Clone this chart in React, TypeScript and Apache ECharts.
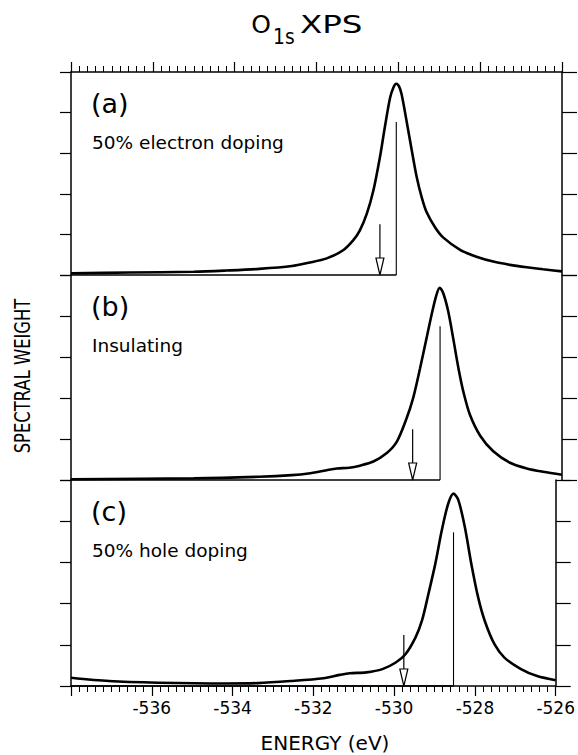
import React, { useEffect, useRef } from "react";
import * as echarts from "echarts";

// O 1s core-level spectra, binding energy in eV (negative scale) vs spectral weight
const energyA = [-538.0, -536.6, -535.0, -534.2, -533.4, -532.6, -532.2, -531.75, -531.35, -531.1, -530.94, -530.77, -530.61, -530.45, -530.33, -530.2, -530.12, -530.05, -529.98, -529.92, -529.8, -529.67, -529.55, -529.43, -529.31, -529.1, -528.9, -528.49, -528.09, -527.68, -527.27, -526.86, -526.46, -526.0];
const weightA = [0.04, 0.06, 0.08, 0.11, 0.15, 0.22, 0.3, 0.41, 0.61, 0.86, 1.1, 1.51, 2.08, 2.9, 3.64, 4.37, 4.62, 4.71, 4.64, 4.45, 3.8, 3.06, 2.41, 1.92, 1.55, 1.17, 0.92, 0.62, 0.45, 0.33, 0.25, 0.19, 0.14, 0.09];

const energyB = [-538.0, -535.0, -533.4, -532.6, -532.2, -531.75, -531.5, -531.2, -530.94, -530.61, -530.29, -530.04, -529.8, -529.64, -529.47, -529.31, -529.19, -529.07, -528.99, -528.9, -528.78, -528.66, -528.53, -528.41, -528.25, -528.0, -527.68, -527.27, -526.86, -526.46, -526.0];
const weightB = [0.02, 0.04, 0.08, 0.12, 0.16, 0.24, 0.28, 0.3, 0.35, 0.45, 0.65, 0.93, 1.5, 1.99, 2.72, 3.46, 4.02, 4.51, 4.69, 4.55, 4.11, 3.46, 2.72, 2.15, 1.59, 1.08, 0.7, 0.42, 0.28, 0.2, 0.13];

const energyC = [-538.0, -537.06, -535.84, -534.2, -533.38, -532.57, -531.75, -531.35, -531.1, -530.69, -530.29, -529.96, -529.72, -529.47, -529.31, -529.15, -528.98, -528.82, -528.66, -528.53, -528.41, -528.25, -528.09, -527.92, -527.76, -527.52, -527.27, -526.86, -526.46, -526.0];
const weightC = [0.2, 0.12, 0.08, 0.06, 0.07, 0.12, 0.19, 0.27, 0.31, 0.33, 0.41, 0.57, 0.77, 1.18, 1.59, 2.24, 2.97, 3.78, 4.43, 4.67, 4.51, 3.86, 2.97, 2.15, 1.59, 1.02, 0.69, 0.41, 0.24, 0.14];

const panelLetters = ["(a)", "(b)", "(c)"];
const panelNotes = ["50% electron doping", "Insulating", "50% hole doping"];

// main-line position and stick height, plus the arrow marking the onset
const peakEnergy = [-530.05, -528.98, -528.53];
const peakStick = [3.77, 3.75, 3.73];
const arrowEnergy = [-530.45, -529.65, -529.76];
const arrowTop = [1.25, 1.24, 1.24];

const E_MIN = -538;
const E_MAX = -526;
const E_STEP = 2;
const W_MIN = 0;
const W_MAX = 5;

const FONT = "DejaVu Sans";
const INK = "#000";

const GRID_LEFT = 71;
const GRID_WIDTH = 491;
const GRID_TOPS = [72, 275, 480];
const GRID_HEIGHTS = [203, 205, 206];

const spectra = [
  [energyA, weightA],
  [energyB, weightB],
  [energyC, weightC],
];

function renderMarks(params: any, api: any) {
  const pE = api.value(0);
  const pH = api.value(1);
  const aE = api.value(2);
  const aT = api.value(3);
  const origin = api.coord([E_MIN, 0]);
  const foot = api.coord([pE, 0]);
  const top = api.coord([pE, pH]);
  const tip = api.coord([aE, 0]);
  const tail = api.coord([aE, aT]);
  const headH = 17;
  const headW = 4;
  return {
    type: "group",
    children: [
      {
        type: "line",
        shape: { x1: origin[0], y1: origin[1], x2: foot[0], y2: foot[1] },
        style: { stroke: INK, lineWidth: 1.3 },
      },
      {
        type: "line",
        shape: { x1: foot[0], y1: foot[1], x2: top[0], y2: top[1] },
        style: { stroke: INK, lineWidth: 1.1 },
      },
      {
        type: "line",
        shape: { x1: tail[0], y1: tail[1], x2: tip[0], y2: tip[1] - headH },
        style: { stroke: INK, lineWidth: 1.2 },
      },
      {
        type: "polygon",
        shape: {
          points: [
            [tip[0] - headW, tip[1] - headH],
            [tip[0] + headW, tip[1] - headH],
            [tip[0], tip[1]],
          ],
        },
        style: { fill: "#fff", stroke: INK, lineWidth: 1.2 },
      },
    ],
  };
}

export default function App() {
  const ref = useRef<HTMLDivElement>(null);

  useEffect(() => {
    if (!ref.current) return;
    const chart = echarts.init(ref.current, undefined, { renderer: "svg" });

    const grids = GRID_TOPS.map((top, i) => ({
      left: GRID_LEFT,
      width: GRID_WIDTH,
      top,
      height: GRID_HEIGHTS[i],
      containLabel: false,
    }));

    const xAxes = GRID_TOPS.map((_, i) => {
      const base: any = {
        type: "value",
        gridIndex: i,
        min: E_MIN,
        max: E_MAX,
        interval: E_STEP,
        splitLine: { show: false },
        minorSplitLine: { show: false },
      };
      if (i === 1) return { ...base, show: false };
      return {
        ...base,
        position: i === 0 ? "top" : "bottom",
        axisLine: { show: true, onZero: false, lineStyle: { color: INK, width: 1.5 } },
        axisTick: { show: true, inside: false, length: 10, lineStyle: { color: INK, width: 1.2 } },
        minorTick: { show: true, splitNumber: 10, length: 6, lineStyle: { color: INK, width: 1 } },
        axisLabel: {
          show: i === 2,
          color: INK,
          fontFamily: FONT,
          fontSize: 17,
          margin: 13,
          formatter: (v: number) => (v === E_MIN ? "" : String(v)),
        },
      };
    });

    const yAxes: any[] = [];
    GRID_TOPS.forEach((_, i) => {
      ["left", "right"].forEach((pos) => {
        yAxes.push({
          type: "value",
          gridIndex: i,
          position: pos,
          min: W_MIN,
          max: W_MAX,
          interval: 1,
          axisLine: { show: true, onZero: false, lineStyle: { color: INK, width: 1.5 } },
          axisTick: { show: true, inside: false, length: pos === "left" ? 11 : 15, lineStyle: { color: INK, width: 1.2 } },
          axisLabel: { show: false },
          splitLine: { show: false },
        });
      });
    });

    const series: any[] = [];
    spectra.forEach(([en, w], i) => {
      series.push({
        type: "line",
        xAxisIndex: i,
        yAxisIndex: i * 2,
        data: en.map((e, k) => [e, w[k]]),
        smooth: 0.3,
        showSymbol: false,
        lineStyle: { color: INK, width: 2.6 },
        z: 3,
      });
      series.push({
        type: "custom",
        xAxisIndex: i,
        yAxisIndex: i * 2,
        data: [[peakEnergy[i], peakStick[i], arrowEnergy[i], arrowTop[i]]],
        renderItem: renderMarks,
        clip: false,
        z: 4,
      });
    });

    const graphic: any[] = [];
    GRID_TOPS.forEach((top, i) => {
      graphic.push({
        type: "text",
        x: 91,
        y: top + 31,
        style: { text: panelLetters[i], font: `27px "${FONT}"`, fill: INK, align: "left", verticalAlign: "middle" },
      });
      graphic.push({
        type: "text",
        x: 92,
        y: top + 70,
        style: { text: panelNotes[i], font: `18.5px "${FONT}"`, fill: INK, align: "left", verticalAlign: "middle" },
      });
    });
    // title: O with subscript 1s, then XPS
    graphic.push({
      type: "text",
      x: 261,
      y: 24,
      style: { text: "O", font: `25px "${FONT}"`, fill: INK, align: "center", verticalAlign: "middle" },
    });
    graphic.push({
      type: "text",
      x: 273,
      y: 36,
      scaleX: 0.85,
      style: { text: "1s", font: `22px "${FONT}"`, fill: INK, align: "left", verticalAlign: "middle" },
    });
    graphic.push({
      type: "text",
      x: 300,
      y: 24,
      scaleX: 1.3,
      style: { text: "XPS", font: `25px "${FONT}"`, fill: INK, align: "left", verticalAlign: "middle" },
    });
    graphic.push({
      type: "text",
      x: 325,
      y: 743,
      style: { text: "ENERGY (eV)", font: `20px "${FONT}"`, fill: INK, align: "center", verticalAlign: "middle" },
    });
    graphic.push({
      type: "text",
      x: 23,
      y: 376,
      rotation: Math.PI / 2,
      scaleX: 0.78,
      style: { text: "SPECTRAL WEIGHT", font: `21px "${FONT}"`, fill: INK, align: "center", verticalAlign: "middle" },
    });

    chart.setOption({
      animation: false,
      backgroundColor: "#fff",
      grid: grids,
      xAxis: xAxes,
      yAxis: yAxes,
      series,
      graphic,
    });

    return () => chart.dispose();
  }, []);

  return (
    <div
      ref={ref}
      style={{ position: "absolute", left: 0, top: 0, width: 578, height: 755, background: "#fff" }}
    />
  );
}
